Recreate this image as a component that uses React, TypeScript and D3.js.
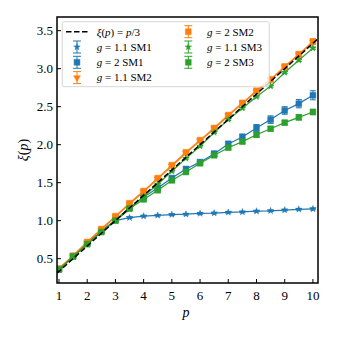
import React from 'react';
import * as d3 from 'd3';

const P = [1, 1.5, 2, 2.5, 3, 3.5, 4, 4.5, 5, 5.5, 6, 6.5, 7, 7.5, 8, 8.5, 9, 9.5, 10];

const sm1G11 = [0.36, 0.53, 0.70, 0.86, 1.00, 1.04, 1.06, 1.07, 1.08, 1.085, 1.095, 1.10, 1.11, 1.115, 1.125, 1.13, 1.14, 1.15, 1.155];
const sm1G11Err = [0.01, 0.01, 0.01, 0.01, 0.01, 0.01, 0.01, 0.01, 0.01, 0.01, 0.01, 0.01, 0.01, 0.01, 0.01, 0.01, 0.01, 0.01, 0.012];
const sm1G2 = [0.36, 0.53, 0.70, 0.86, 1.01, 1.17, 1.31, 1.43, 1.56, 1.68, 1.77, 1.88, 2.01, 2.10, 2.22, 2.33, 2.45, 2.54, 2.65];
const sm1G2Err = [0.01, 0.01, 0.01, 0.01, 0.015, 0.02, 0.02, 0.025, 0.025, 0.03, 0.03, 0.035, 0.035, 0.04, 0.045, 0.05, 0.05, 0.055, 0.06];
const sm2G11 = [0.37, 0.54, 0.72, 0.88, 1.05, 1.22, 1.38, 1.55, 1.72, 1.89, 2.05, 2.21, 2.38, 2.54, 2.70, 2.85, 3.02, 3.18, 3.35];
const sm2G11Err = [0.01, 0.01, 0.01, 0.01, 0.01, 0.015, 0.015, 0.015, 0.02, 0.02, 0.02, 0.02, 0.02, 0.025, 0.025, 0.025, 0.025, 0.03, 0.03];
const sm2G2 = [0.37, 0.54, 0.72, 0.89, 1.06, 1.23, 1.39, 1.56, 1.73, 1.90, 2.06, 2.22, 2.39, 2.55, 2.71, 2.86, 3.03, 3.19, 3.36];
const sm2G2Err = [0.01, 0.01, 0.01, 0.01, 0.01, 0.015, 0.015, 0.015, 0.02, 0.02, 0.02, 0.02, 0.02, 0.025, 0.025, 0.025, 0.025, 0.03, 0.03];
const sm3G11 = [0.35, 0.52, 0.69, 0.85, 1.00, 1.15, 1.32, 1.48, 1.65, 1.82, 1.98, 2.16, 2.33, 2.48, 2.63, 2.77, 2.95, 3.11, 3.27];
const sm3G11Err = [0.01, 0.01, 0.01, 0.01, 0.01, 0.01, 0.01, 0.01, 0.01, 0.01, 0.01, 0.01, 0.012, 0.012, 0.012, 0.012, 0.015, 0.015, 0.015];
const sm3G2 = [0.36, 0.53, 0.69, 0.85, 1.00, 1.16, 1.28, 1.40, 1.53, 1.64, 1.755, 1.86, 1.96, 2.04, 2.13, 2.21, 2.29, 2.36, 2.43];
const sm3G2Err = [0.01, 0.01, 0.01, 0.01, 0.01, 0.015, 0.015, 0.02, 0.02, 0.02, 0.02, 0.025, 0.025, 0.025, 0.03, 0.03, 0.03, 0.035, 0.035];

const xTicks = [1, 2, 3, 4, 5, 6, 7, 8, 9, 10];
const yTicks = [0.5, 1.0, 1.5, 2.0, 2.5, 3.0, 3.5];

const BLUE = '#1f77b4';
const ORANGE = '#ff7f0e';
const GREEN = '#2ca02c';

type Series = { g: string; sm: string; vals: number[]; err: number[]; color: string; marker: 'star' | 'square' | 'tri' };

const series: Series[] = [
  { g: '1.1', sm: 'SM1', vals: sm1G11, err: sm1G11Err, color: BLUE, marker: 'star' },
  { g: '2', sm: 'SM1', vals: sm1G2, err: sm1G2Err, color: BLUE, marker: 'square' },
  { g: '1.1', sm: 'SM2', vals: sm2G11, err: sm2G11Err, color: ORANGE, marker: 'tri' },
  { g: '2', sm: 'SM2', vals: sm2G2, err: sm2G2Err, color: ORANGE, marker: 'square' },
  { g: '1.1', sm: 'SM3', vals: sm3G11, err: sm3G11Err, color: GREEN, marker: 'star' },
  { g: '2', sm: 'SM3', vals: sm3G2, err: sm3G2Err, color: GREEN, marker: 'square' },
];

const W = 337, H = 337;
const m = { left: 57, top: 17, right: 19, bottom: 54 };
const FONT = '"Liberation Serif", "DejaVu Serif", serif';

const markerPath = (kind: string) => {
  if (kind === 'star') return d3.symbol(d3.symbolStar, 13)()!;
  if (kind === 'square') return d3.symbol(d3.symbolSquare, 34)()!;
  return d3.symbol(d3.symbolTriangle, 20)()!;
};

const Marker = ({ kind, x, y, color }: { kind: string; x: number; y: number; color: string }) => (
  <path
    d={markerPath(kind)}
    transform={`translate(${x},${y})${kind === 'tri' ? ' rotate(180)' : ''}`}
    fill={color}
    stroke={color}
    strokeWidth={0.5}
  />
);

const Label = ({ g, sm }: { g: string; sm: string }) => (
  <>
    <tspan fontStyle="italic">g</tspan>
    <tspan> = {g} {sm}</tspan>
  </>
);

export default function App() {
  const x = d3.scaleLinear().domain([0.93, 10.18]).range([m.left, W - m.right]);
  const y = d3.scaleLinear().domain([0.18, 3.68]).range([H - m.bottom, m.top]);
  const line = d3.line<number>().x((_, i) => x(P[i])).y(d => y(d));
  const refLine = d3.line<number>().x(d => x(d)).y(d => y(d / 3));

  const legendRows = [31.7, 47, 62.3, 77.6];
  const legendItems = [
    { col: 0, row: 0, kind: 'dash' as const },
    ...series.map((s, i) => ({ col: i < 3 ? 0 : 1, row: i < 3 ? i + 1 : i - 3, kind: 's' as const, s })),
  ];

  return (
    <svg width={W} height={H} style={{ position: 'absolute', left: 0, top: 0 }} fontFamily={FONT}>
      <rect width={W} height={H} fill="white" />
      <defs>
        <clipPath id="plot">
          <rect x={m.left} y={m.top} width={W - m.left - m.right} height={H - m.top - m.bottom} />
        </clipPath>
      </defs>

      <g clipPath="url(#plot)">
        {series.map((s, si) => (
          <g key={si}>
            <path d={line(s.vals)!} fill="none" stroke={s.color} strokeWidth={1.2} />
            {s.vals.map((v, i) => (
              <g key={i} stroke={s.color} strokeWidth={1}>
                <line x1={x(P[i])} x2={x(P[i])} y1={y(v - s.err[i])} y2={y(v + s.err[i])} />
                <line x1={x(P[i]) - 3} x2={x(P[i]) + 3} y1={y(v - s.err[i])} y2={y(v - s.err[i])} />
                <line x1={x(P[i]) - 3} x2={x(P[i]) + 3} y1={y(v + s.err[i])} y2={y(v + s.err[i])} />
              </g>
            ))}
            {s.vals.map((v, i) => (
              <Marker key={'m' + i} kind={s.marker} x={x(P[i])} y={y(v)} color={s.color} />
            ))}
          </g>
        ))}
        <path d={refLine([0.93, 10.18])!} fill="none" stroke="black" strokeWidth={1.5} strokeDasharray="5.5,2.5" />
      </g>

      {/* axes */}
      {xTicks.map(t => (
        <g key={t}>
          <line x1={x(t)} x2={x(t)} y1={H - m.bottom} y2={H - m.bottom - 4} stroke="black" strokeWidth={1} />
          <text x={x(t)} y={H - m.bottom + 17} textAnchor="middle" fontSize={13}>{t}</text>
        </g>
      ))}
      {yTicks.map(t => (
        <g key={t}>
          <line x1={m.left} x2={m.left + 4} y1={y(t)} y2={y(t)} stroke="black" strokeWidth={1} />
          <text x={m.left - 4} y={y(t) + 4.5} textAnchor="end" fontSize={13}>{t.toFixed(1)}</text>
        </g>
      ))}
      <rect x={m.left} y={m.top} width={W - m.left - m.right} height={H - m.top - m.bottom} fill="none" stroke="black" strokeWidth={1.5} />

      <text x={186} y={317} textAnchor="middle" fontSize={14} fontStyle="italic">p</text>
      <text transform={`translate(28,${(m.top + H - m.bottom) / 2}) rotate(-90)`} textAnchor="middle" fontSize={14}>
        <tspan fontStyle="italic">ξ</tspan>(<tspan fontStyle="italic">p</tspan>)
      </text>

      {/* legend */}
      <rect x={62.3} y={21.7} width={207} height={65} rx={2} fill="white" fillOpacity={0.8} stroke="#cccccc" strokeWidth={0.8} />
      {legendItems.map((it, k) => {
        const hx = it.col === 0 ? 77 : 188.3;
        const tx = it.col === 0 ? 96.7 : 207;
        const ry = legendRows[it.row];
        if (it.kind === 'dash') {
          return (
            <g key={k}>
              <line x1={hx - 11} x2={hx + 11} y1={ry} y2={ry} stroke="black" strokeWidth={1.5} strokeDasharray="5.5,2.5" />
              <text x={tx} y={ry + 3.8} fontSize={11}>
                <tspan fontStyle="italic">ξ</tspan>(<tspan fontStyle="italic">p</tspan>) = <tspan fontStyle="italic">p</tspan>/3
              </text>
            </g>
          );
        }
        const s = it.s!;
        return (
          <g key={k}>
            <g stroke={s.color} strokeWidth={1}>
              <line x1={hx} x2={hx} y1={ry - 6} y2={ry + 6} />
              <line x1={hx - 4} x2={hx + 4} y1={ry - 6} y2={ry - 6} />
              <line x1={hx - 4} x2={hx + 4} y1={ry + 6} y2={ry + 6} />
            </g>
            <Marker kind={s.marker} x={hx} y={ry} color={s.color} />
            <text x={tx} y={ry + 3.8} fontSize={11}>
              <Label g={s.g} sm={s.sm} />
            </text>
          </g>
        );
      })}
    </svg>
  );
}
